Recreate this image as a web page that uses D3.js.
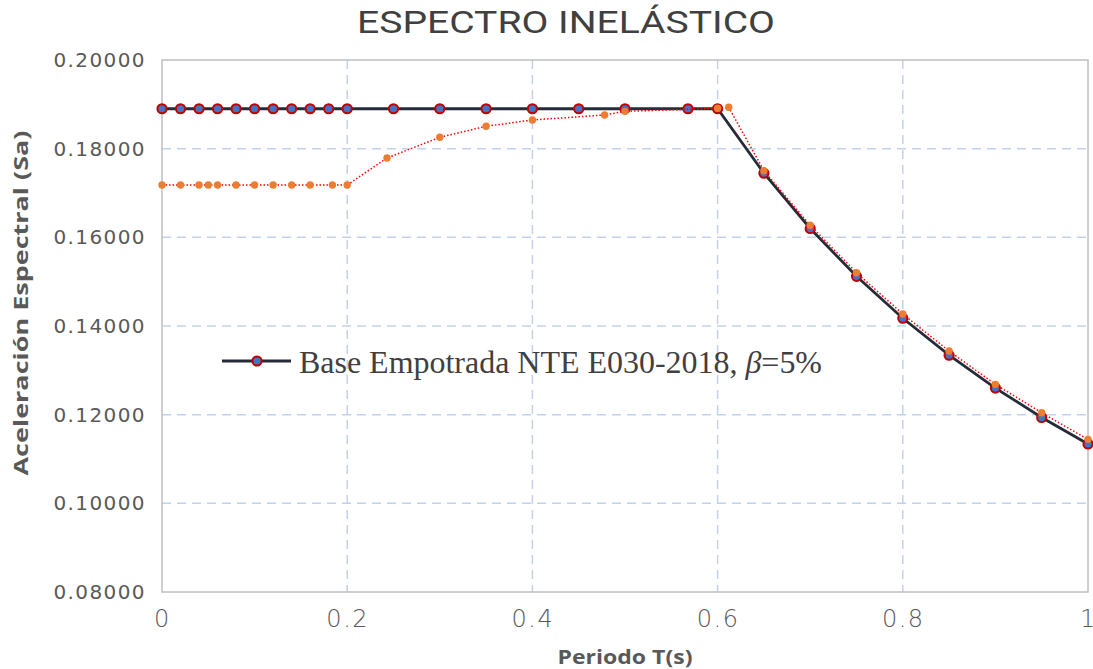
<!DOCTYPE html>
<html><head><meta charset="utf-8">
<script src="https://cdn.jsdelivr.net/npm/d3@7"></script>
<style>body{margin:0;background:#fff;} svg{display:block;}</style>
</head><body>
<svg id="c" width="1093" height="669"></svg>
<script>
// ---- data ----
const title = "ESPECTRO INELÁSTICO";
const xLabel = "Periodo T(s)";
const yLabel = "Aceleración Espectral (Sa)";
const legendText = "Base Empotrada NTE E030-2018, ";
const xTicks = [0, 0.2, 0.4, 0.6, 0.8, 1];
const yTicks = [0.08, 0.10, 0.12, 0.14, 0.16, 0.18, 0.20];

const baseT  = [0, 0.02, 0.04, 0.06, 0.08, 0.10, 0.12, 0.14, 0.16, 0.18, 0.20, 0.25, 0.30, 0.35, 0.40, 0.45, 0.50, 0.568, 0.60, 0.65, 0.70, 0.75, 0.80, 0.85, 0.90, 0.95, 1.00];
const baseSa = [0.18900, 0.18900, 0.18900, 0.18900, 0.18900, 0.18900, 0.18900, 0.18900, 0.18900, 0.18900, 0.18900, 0.18900, 0.18900, 0.18900, 0.18900, 0.18900, 0.18900, 0.18900, 0.18900, 0.17446, 0.16200, 0.15120, 0.14175, 0.13341, 0.12600, 0.11937, 0.11340];

const isoT  = [0, 0.02, 0.04, 0.05, 0.06, 0.08, 0.10, 0.12, 0.14, 0.16, 0.184, 0.20, 0.243, 0.30, 0.35, 0.40, 0.478, 0.50, 0.60, 0.612, 0.65, 0.70, 0.75, 0.80, 0.85, 0.90, 0.95, 1.00];
const isoSa = [0.17180, 0.17180, 0.17180, 0.17180, 0.17180, 0.17180, 0.17180, 0.17180, 0.17180, 0.17180, 0.17180, 0.17180, 0.17790, 0.18256, 0.18505, 0.18647, 0.18760, 0.18842, 0.18910, 0.18933, 0.17503, 0.16271, 0.15202, 0.14270, 0.13435, 0.12684, 0.12043, 0.11443];

// ---- layout ----
const svg = d3.select("#c");
const L = 162, R = 1088, T = 60, B = 592;
const x = d3.scaleLinear().domain([0, 1]).range([L, R]);
const y = d3.scaleLinear().domain([0.08, 0.20]).range([B, T]);

// grid
const grid = svg.append("g");
grid.selectAll("line.h").data(yTicks.filter(v => v > 0.081 && v < 0.199)).enter().append("line")
  .attr("x1", L).attr("x2", R).attr("y1", d => y(d)).attr("y2", d => y(d))
  .attr("stroke", "#C3D2EC").attr("stroke-width", 1.5).attr("stroke-dasharray", "9,6");
grid.selectAll("line.v").data(xTicks.filter(v => v > 0 && v < 1)).enter().append("line")
  .attr("x1", d => x(d)).attr("x2", d => x(d)).attr("y1", T).attr("y2", B)
  .attr("stroke", "#C3D2EC").attr("stroke-width", 1.5).attr("stroke-dasharray", "9,6");

// frame
svg.append("rect").attr("x", L).attr("y", T).attr("width", R - L).attr("height", B - T)
  .attr("fill", "none").attr("stroke", "#BFBFBF").attr("stroke-width", 1.5);

// axes
const yAxis = d3.axisLeft(y).tickValues(yTicks).tickFormat(d3.format(".5f")).tickSize(0).tickPadding(16);
const gy = svg.append("g").attr("transform", `translate(${L},0)`).call(yAxis);
gy.select(".domain").remove();
gy.selectAll("text").attr("font-family", "DejaVu Sans").attr("font-size", 20)
  .attr("fill", "#595959").attr("letter-spacing", 1.4);

const xAxis = d3.axisBottom(x).tickValues(xTicks).tickFormat(d3.format("")).tickSize(0).tickPadding(18);
const gx = svg.append("g").attr("transform", `translate(0,${B})`).call(xAxis);
gx.select(".domain").remove();
gx.selectAll("text").attr("font-family", "DejaVu Sans").attr("font-size", 24)
  .attr("fill", "#595959").attr("letter-spacing", 1.5).attr("font-weight", 300);

// base series (line + markers)
const baseData = baseT.map((t, i) => ({t, v: baseSa[i]}));
const isoData = isoT.map((t, i) => ({t, v: isoSa[i]}));
const line = d3.line().x(d => x(d.t)).y(d => y(d.v));

svg.append("path").datum(baseData).attr("d", line).attr("fill", "none")
  .attr("stroke", "#252C37").attr("stroke-width", 2.8);
svg.append("g").selectAll("circle").data(baseData).enter().append("circle")
  .attr("cx", d => x(d.t)).attr("cy", d => y(d.v)).attr("r", 4.6)
  .attr("fill", "#4472C4").attr("stroke", "#C00000").attr("stroke-width", 2);

// second series (dotted red line + orange dots)
svg.append("path").datum(isoData).attr("d", line).attr("fill", "none")
  .attr("stroke", "#FF0000").attr("stroke-width", 1.5).attr("stroke-dasharray", "1.5,2");
svg.append("g").selectAll("circle").data(isoData).enter().append("circle")
  .attr("cx", d => x(d.t)).attr("cy", d => y(d.v)).attr("r", 3.7)
  .attr("fill", "#ED7D31");

// title
svg.append("text").attr("x", 566).attr("y", 33).attr("text-anchor", "middle")
  .attr("font-family", "Roboto").attr("font-size", 31).attr("fill", "#404040")
  .attr("textLength", 418).attr("lengthAdjust", "spacingAndGlyphs").text(title);

// axis titles
svg.append("text").attr("x", 625).attr("y", 664).attr("text-anchor", "middle")
  .attr("font-family", "Open Sans").attr("font-weight", "bold").attr("font-size", 19)
  .attr("fill", "#595959").attr("textLength", 135).attr("lengthAdjust", "spacingAndGlyphs").text(xLabel);
svg.append("text").attr("transform", "translate(28,303) rotate(-90)").attr("text-anchor", "middle")
  .attr("font-family", "Open Sans").attr("font-weight", "bold").attr("font-size", 19)
  .attr("fill", "#595959").attr("textLength", 345).attr("lengthAdjust", "spacingAndGlyphs").text(yLabel);

// legend
const lg = svg.append("g");
lg.append("line").attr("x1", 222).attr("x2", 291).attr("y1", 361).attr("y2", 361)
  .attr("stroke", "#252C37").attr("stroke-width", 2.8);
lg.append("circle").attr("cx", 257).attr("cy", 361).attr("r", 4.6)
  .attr("fill", "#4472C4").attr("stroke", "#C00000").attr("stroke-width", 2);
const lt = lg.append("text").attr("x", 299).attr("y", 373)
  .attr("font-family", "Liberation Serif").attr("font-size", 31).attr("fill", "#404040")
  .attr("textLength", 523).attr("lengthAdjust", "spacingAndGlyphs");
lt.append("tspan").text(legendText);
lt.append("tspan").attr("font-style", "italic").text("β");
lt.append("tspan").text("=5%");
</script>
</body></html>
